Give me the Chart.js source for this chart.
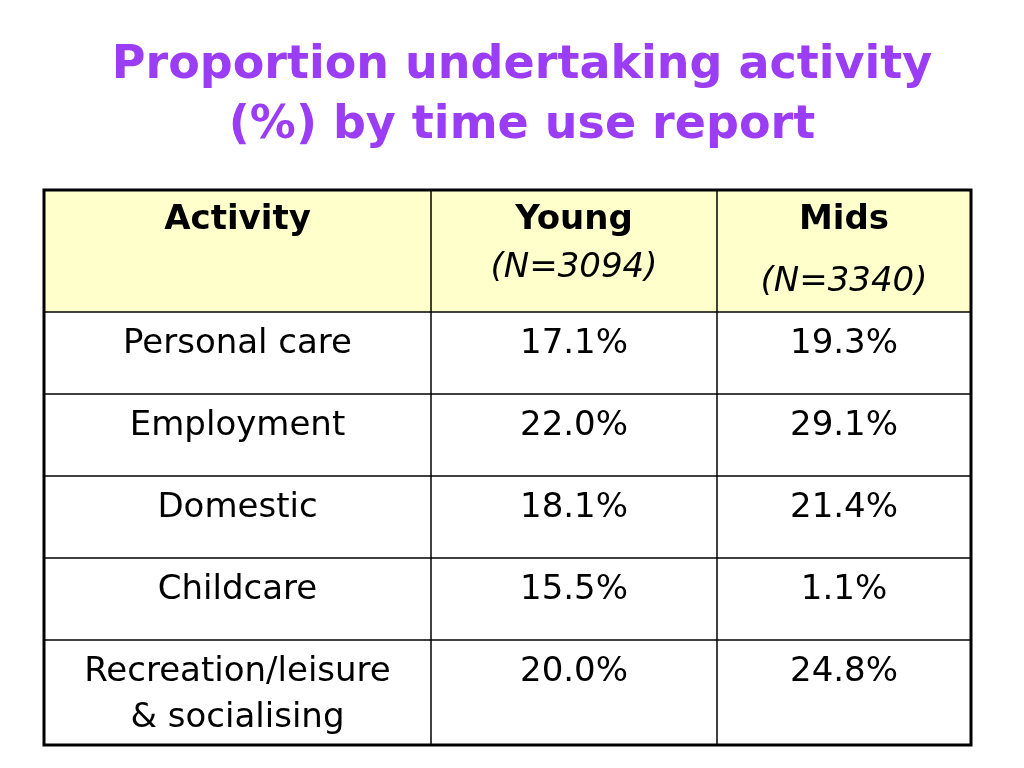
<!DOCTYPE html>
<html><head><meta charset="utf-8">
<script src="https://cdn.jsdelivr.net/npm/chart.js@4"></script>
<style>html,body{margin:0;padding:0;background:#fff}#c{display:block}</style>
</head><body>
<canvas id="c" width="1024" height="768"></canvas>
<script>
const titleLines = ["Proportion undertaking activity", "(%) by time use report"];
const headers = [["Activity"], ["Young", "(N=3094)"], ["Mids", "(N=3340)"]];
const categories = [["Personal care"], ["Employment"], ["Domestic"], ["Childcare"], ["Recreation/leisure", "& socialising"]];
const young = [17.1, 22.0, 18.1, 15.5, 20.0];
const mids = [19.3, 29.1, 21.4, 1.1, 24.8];
// grid boundaries in scale units
const colEdges = [0, 387, 673, 927];
const rowEdges = [0, 122, 204, 286, 368, 450, 555];

const tablePlugin = {
  id: 'table',
  afterDraw(chart) {
    const ctx = chart.ctx, xs = chart.scales.x, ys = chart.scales.y;
    const X = v => xs.getPixelForValue(v), Y = v => ys.getPixelForValue(v);
    ctx.save();
    // title
    ctx.fillStyle = '#9B3DF5';
    ctx.font = 'bold 46px "DejaVu Sans"';
    ctx.textAlign = 'center'; ctx.textBaseline = 'middle';
    ctx.fillText(titleLines[0], 522, 66);
    ctx.fillText(titleLines[1], 522, 126);
    // header bg
    ctx.fillStyle = '#FFFFCC';
    ctx.fillRect(X(0), Y(0), X(927) - X(0), Y(122) - Y(0));
    // lines
    ctx.strokeStyle = '#000'; ctx.lineWidth = 1.5;
    rowEdges.forEach(r => { ctx.beginPath(); ctx.moveTo(X(0), Y(r)); ctx.lineTo(X(927), Y(r)); ctx.stroke(); });
    colEdges.forEach(c => { ctx.beginPath(); ctx.moveTo(X(c), Y(0)); ctx.lineTo(X(c), Y(555)); ctx.stroke(); });
    ctx.lineWidth = 3;
    ctx.strokeRect(X(0), Y(0), X(927) - X(0), Y(555) - Y(0));
    const cx = i => (X(colEdges[i]) + X(colEdges[i + 1])) / 2;
    // headers
    ctx.fillStyle = '#000';
    ctx.font = 'bold 34px "DejaVu Sans"';
    ctx.fillText(headers[0][0], cx(0), Y(30));
    ctx.fillText(headers[1][0], cx(1), Y(30));
    ctx.fillText(headers[2][0], cx(2), Y(30));
    ctx.font = 'italic 34px "DejaVu Sans"';
    ctx.fillText(headers[1][1], cx(1), Y(78));
    ctx.fillText(headers[2][1], cx(2), Y(92));
    // body
    ctx.font = '34px "DejaVu Sans"';
    categories.forEach((lines, i) => {
      const top = rowEdges[i + 1];
      lines.forEach((t, j) => ctx.fillText(t, cx(0), Y(top + 32 + j * 46)));
      ctx.fillText(young[i].toFixed(1) + '%', cx(1), Y(top + 32));
      ctx.fillText(mids[i].toFixed(1) + '%', cx(2), Y(top + 32));
    });
    ctx.restore();
  }
};

new Chart(document.getElementById('c'), {
  type: 'scatter',
  data: { datasets: [{ data: [], showLine: false }] },
  options: {
    responsive: false, animation: false,
    layout: { padding: { left: 44, right: 53, top: 190, bottom: 23 } },
    plugins: { legend: { display: false }, tooltip: { enabled: false } },
    scales: {
      x: { type: 'linear', min: 0, max: 927, display: false },
      y: { type: 'linear', min: 0, max: 555, reverse: true, display: false }
    }
  },
  plugins: [tablePlugin]
});
</script>
</body></html>
